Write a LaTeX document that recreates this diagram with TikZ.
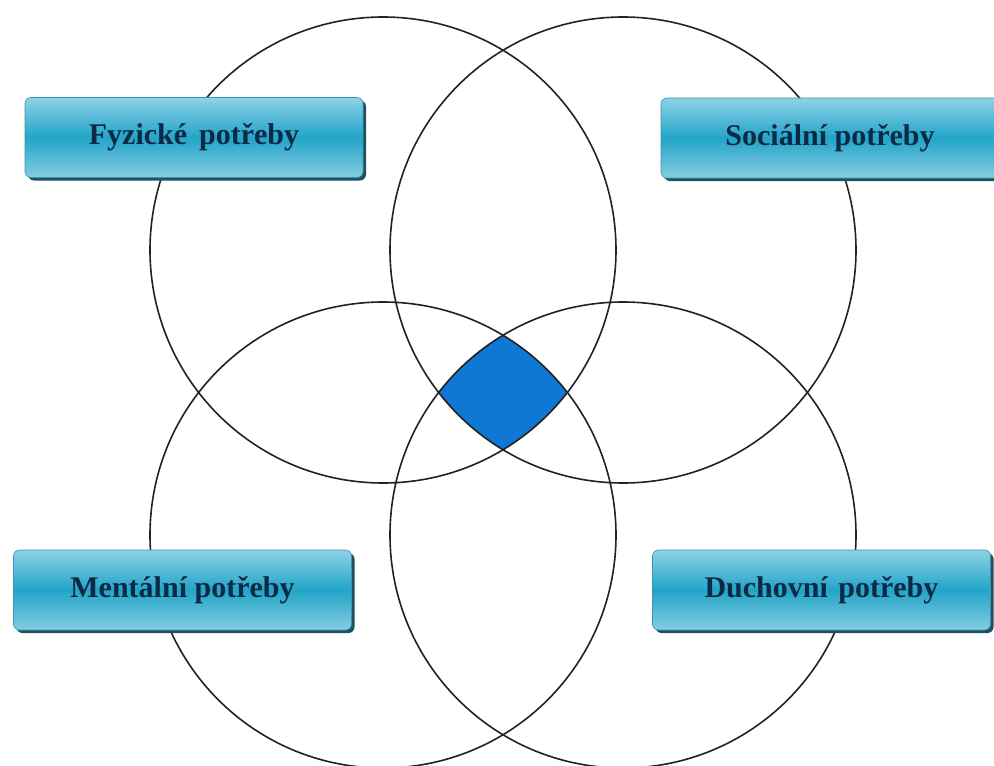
\documentclass[tikz,border=0pt]{standalone}
\usepackage{fontspec}
\setmainfont{Liberation Serif}
\usetikzlibrary{shadows}
\definecolor{ringc}{HTML}{222222}
\definecolor{corefill}{HTML}{0F78D4}
\definecolor{boxtop}{HTML}{8ED2E6}
\definecolor{boxmid}{HTML}{22A5C8}
\definecolor{boxbot}{HTML}{86CDE1}
\definecolor{boxedge}{HTML}{3C94AE}
\definecolor{boxshadow}{HTML}{1E5263}
\definecolor{boxtext}{HTML}{0C2A46}
\begin{document}
\begin{tikzpicture}[x=1pt,y=-1pt,
  ring/.style={circle,draw=ringc,line width=1.6pt,minimum size=466pt,inner sep=0pt,outer sep=0pt},
  needbox/.style={rectangle,rounded corners=6pt,minimum width=338pt,minimum height=80pt,
    top color=boxtop,bottom color=boxbot,middle color=boxmid,draw=boxedge,line width=0.6pt,
    drop shadow={shadow xshift=3pt,shadow yshift=-3pt,fill=boxshadow,opacity=1},
    font=\fontsize{30}{32}\selectfont\bfseries,text=boxtext}]
\useasboundingbox (0,0) rectangle (994,766);
\fill[white] (0,0) rectangle (994,766);
% central intersection
\begin{scope}
  \clip (383,250) circle[radius=233pt];
  \clip (623,250) circle[radius=233pt];
  \clip (383,535) circle[radius=233pt];
  \fill[corefill] (623,535) circle[radius=233pt];
\end{scope}
% circles
\node[ring] (c1) at (383,250) {};
\node[ring] (c2) at (623,250) {};
\node[ring] (c3) at (383,535) {};
\node[ring] (c4) at (623,535) {};
% boxes
\node[needbox] (b1) at (194,137.5) {Fyzické\hspace{0.15em} potřeby};
\node[needbox] (b2) at (830,138) {Sociální potřeby};
\node[needbox] (b3) at (182.5,590) {Mentální potřeby};
\node[needbox] (b4) at (821.5,590) {Duchovní\hspace{0.1em} potřeby};
\end{tikzpicture}
\end{document}
